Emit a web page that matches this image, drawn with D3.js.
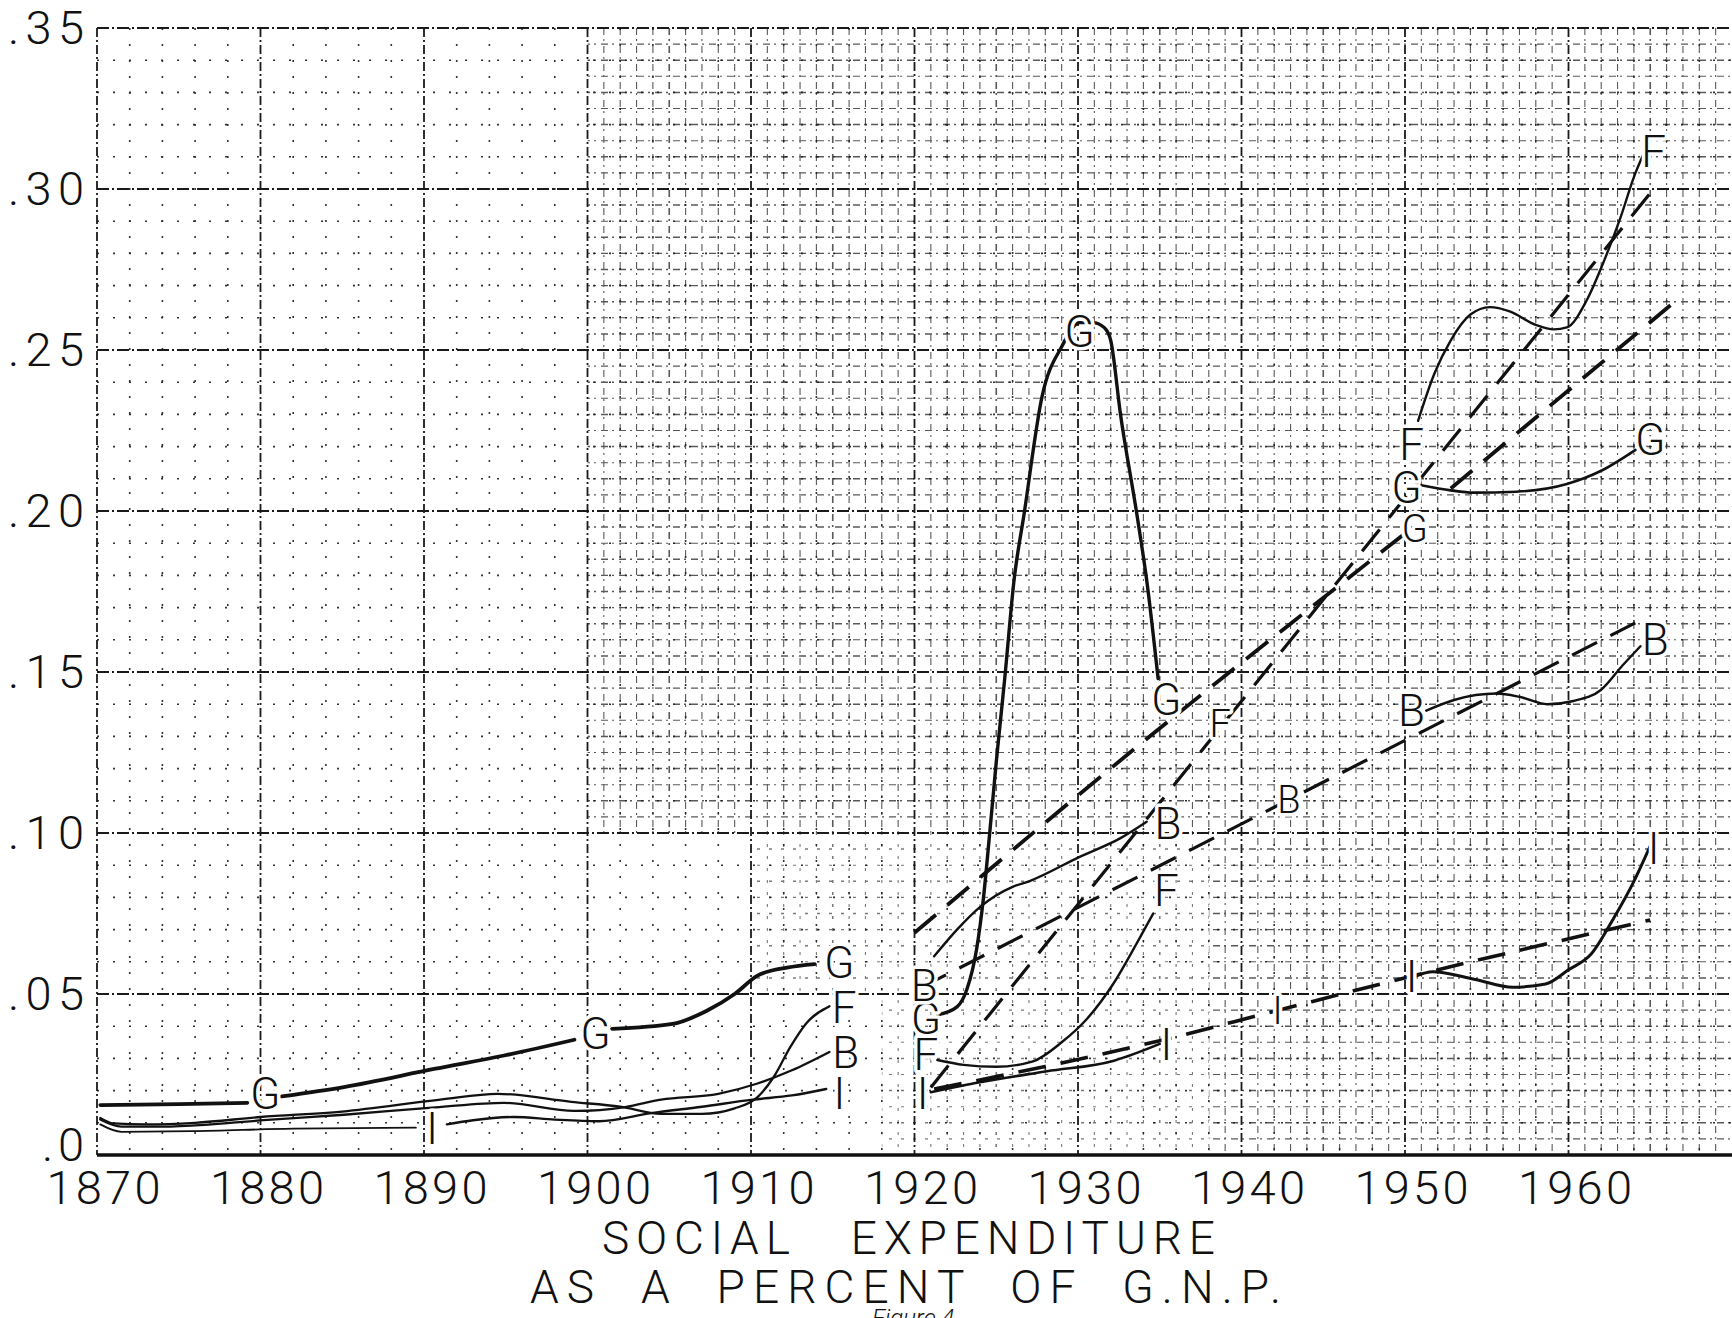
<!DOCTYPE html>
<html>
<head>
<meta charset="utf-8">
<script src="https://cdn.jsdelivr.net/npm/d3@7/dist/d3.min.js"></script>
<style>
  html, body { margin: 0; padding: 0; background: #fff; }
  svg { display: block; }
  text { font-family: Roboto, 'DejaVu Sans', sans-serif; font-weight: 300; fill: #111; white-space: pre; }
</style>
</head>
<body>
<svg id="chart" width="1732" height="1318"></svg>
<script>
// axis ticks
const years = [1870, 1880, 1890, 1900, 1910, 1920, 1930, 1940, 1950, 1960];
const yTicks = [0, 0.05, 0.10, 0.15, 0.20, 0.25, 0.30, 0.35];
const yTickLabels = ['.0', '.05', '.10', '.15', '.20', '.25', '.30', '.35'];
const titleLines = ['SOCIAL   EXPENDITURE', 'AS  A  PERCENT  OF  G.N.P.'];

// G : solid pieces [year, share of GNP]
const gSolid = [
  [[1870.2, 0.0155], [1875, 0.0158], [1879.2, 0.0162]],
  [[1881.3, 0.0182], [1885.1, 0.0211], [1890.7, 0.0268], [1894.9, 0.0309], [1899.2, 0.0358]],
  [[1901.5, 0.0392], [1905.2, 0.0407], [1907.3, 0.0448], [1909, 0.050], [1910.4, 0.0557], [1912.2, 0.0582], [1913.9, 0.0593]],
  [[1921.4, 0.0435], [1922.6, 0.046], [1923.2, 0.0514], [1923.8, 0.064], [1924.2, 0.079], [1924.6, 0.100],
   [1925, 0.122], [1925.5, 0.147], [1926.1, 0.179], [1926.7, 0.199], [1927.8, 0.2355], [1929, 0.251],
   [1930.1, 0.2585], [1930.9, 0.2585], [1931.6, 0.257], [1932, 0.253], [1932.6, 0.230], [1933.6, 0.199],
   [1934.2, 0.1786], [1934.9, 0.148]],
  [[1951, 0.208], [1952.8, 0.2064], [1954.2, 0.2057], [1956.8, 0.206], [1959.9, 0.2084], [1962, 0.2125], [1964.1, 0.219]]
];
// F : solid pieces
const fSolid = [
  [[1870.2, 0.0115], [1871, 0.0098], [1873, 0.0095], [1876, 0.0100], [1880, 0.0118], [1885, 0.0135],
   [1891, 0.0172], [1894.5, 0.019], [1899, 0.0165], [1902, 0.015], [1904.5, 0.0128], [1907, 0.0128],
   [1909, 0.0145], [1910.4, 0.018], [1911.4, 0.0243], [1912.4, 0.0335], [1913.4, 0.041], [1914.8, 0.0462]],
  [[1921.4, 0.0295], [1923, 0.028], [1925, 0.0274], [1927.2, 0.029], [1929, 0.035], [1930.5, 0.042],
   [1932.2, 0.0535], [1933.6, 0.0658], [1934.6, 0.075]],
  [[1950.8, 0.228], [1951.8, 0.2427], [1952.8, 0.253], [1954, 0.261], [1955.2, 0.2633], [1956.4, 0.262],
   [1958, 0.2578], [1959.1, 0.2564], [1959.9, 0.257], [1961.1, 0.2653], [1962.2, 0.278], [1963.2, 0.2914],
   [1964, 0.3037], [1964.6, 0.311]]
];
// B : solid pieces
const bSolid = [
  [[1870.2, 0.0110], [1871.5, 0.0088], [1874, 0.0088], [1877, 0.0095], [1880.2, 0.0108], [1885.1, 0.0125],
   [1890.7, 0.0148], [1894.9, 0.0162], [1899.2, 0.0137], [1902.3, 0.0149], [1904.5, 0.0172], [1908, 0.019],
   [1910.4, 0.0222], [1912.5, 0.0263], [1914.8, 0.032]],
  [[1921.2, 0.0617], [1922.6, 0.070], [1924, 0.077], [1926, 0.0833], [1927, 0.085], [1930.1, 0.0926],
   [1932.6, 0.0984], [1934.2, 0.1035]],
  [[1951.3, 0.138], [1953, 0.1413], [1955.6, 0.1433], [1957, 0.1423], [1958.7, 0.140], [1960.3, 0.141],
   [1962, 0.1445], [1963.3, 0.152], [1964.4, 0.158]]
];
// I : solid pieces
const iSolid = [
  [[1870.2, 0.0095], [1871.5, 0.0072], [1875.8, 0.0074], [1882, 0.0082], [1889.5, 0.0085]],
  [[1891.4, 0.0095], [1893, 0.0108], [1895.5, 0.0118], [1898, 0.011], [1900.7, 0.0105], [1903.9, 0.013],
   [1907, 0.015], [1910.1, 0.0172], [1912.5, 0.0185], [1914.6, 0.0205]],
  [[1921, 0.0195], [1924, 0.0226], [1928.1, 0.026], [1932.2, 0.0293], [1935, 0.0345]],
  [[1950.6, 0.0555], [1951.7, 0.0569], [1954.3, 0.0545], [1956.6, 0.0521], [1958.6, 0.0531], [1960, 0.0575],
   [1961.4, 0.0625], [1962.7, 0.073], [1964, 0.085], [1965, 0.096]]
];

// dashed trend lines
const gTrend = [
  [[1920, 0.069], [1935.6, 0.135], [1943, 0.165], [1950, 0.193]],
  [[1952.8, 0.207], [1966.5, 0.265]]
];
const fTrend = [[[1921, 0.021], [1965.2, 0.300]]];
const bTrend = [[[1920.4, 0.052], [1964.6, 0.1666]]];
const iTrend = [[[1921.2, 0.0205], [1928, 0.0275], [1935, 0.0355], [1942.2, 0.0449], [1950.4, 0.0555], [1965, 0.073]]];

// letter labels sitting on the curves [year, value]
const gLabels = [[1880.3, 0.0192], [1900.5, 0.0379], [1915.4, 0.0600], [1920.7, 0.0425], [1930.1, 0.2557],
                 [1935.4, 0.1416], [1950.1, 0.2074], [1965, 0.2222]];
const fLabels = [[1915.7, 0.0459], [1920.7, 0.0312], [1935.4, 0.0823], [1950.4, 0.2208], [1965.2, 0.3116]];
const bLabels = [[1915.8, 0.0319], [1920.6, 0.0528], [1935.5, 0.1032], [1950.4, 0.1382], [1965.3, 0.1601]];
const iLabels = [[1890.5, 0.0082], [1915.4, 0.0192], [1920.5, 0.0192], [1935.4, 0.0343], [1950.4, 0.0555], [1965.2, 0.0953]];
const boldLabels = [['F', 1938.7, 0.1340], ['B', 1942.9, 0.1104], ['I', 1942.2, 0.0449], ['G', 1950.6, 0.1947]];

const svg = d3.select('#chart');
const x = d3.scaleLinear().domain([1870, 1970]).range([97, 1732]);
const y = d3.scaleLinear().domain([0, 0.35]).range([1155, 28]);
const x0 = x(1870), x1 = x(1970), yTop = y(0.35), yBase = y(0);

// ---- graph paper ----
const paper = svg.append('g');

const sparseYears = d3.range(1872, 1970, 2).filter((yr) => yr % 10 !== 0);
const sparseVals = d3.range(1, 35).map((k) => k / 100).filter((_, k) => (k + 1) % 5 !== 0);

paper.selectAll('line.sv').data(sparseYears).enter().append('line')
  .attr('x1', (d) => x(d)).attr('x2', (d) => x(d)).attr('y1', yTop).attr('y2', yBase)
  .attr('stroke', '#333').attr('stroke-width', 1.6).attr('stroke-dasharray', '2 14');
paper.selectAll('line.sh').data(sparseVals).enter().append('line')
  .attr('x1', x0).attr('x2', x1).attr('y1', (d) => y(d)).attr('y2', (d) => y(d))
  .attr('stroke', '#333').attr('stroke-width', 1.6).attr('stroke-dasharray', '2 14');

// denser paper texture on the right / upper part of the sheet
const densePoly = [[1900, 0.35], [1970, 0.35], [1970, 0], [1938, 0], [1938, 0.10], [1900, 0.10]];
svg.append('clipPath').attr('id', 'dense')
  .append('polygon').attr('points', densePoly.map((p) => `${x(p[0])},${y(p[1])}`).join(' '));
const midPoly = [[1910, 0.10], [1938, 0.10], [1938, 0], [1918, 0], [1918, 0.05], [1910, 0.05]];
svg.append('clipPath').attr('id', 'mid')
  .append('polygon').attr('points', midPoly.map((p) => `${x(p[0])},${y(p[1])}`).join(' '));

const denseYears = d3.range(1871, 1970, 1).filter((yr) => yr % 10 !== 0);
const denseVals = d3.range(1, 70).map((k) => k * 0.005).filter((_, k) => (k + 1) % 10 !== 0);

function fineGrid(clipId, dash, opacity) {
  const g = paper.append('g').attr('clip-path', `url(#${clipId})`).attr('opacity', opacity);
  g.selectAll('line.v').data(denseYears).enter().append('line')
    .attr('x1', (d) => x(d)).attr('x2', (d) => x(d)).attr('y1', yTop).attr('y2', yBase)
    .attr('stroke', '#222').attr('stroke-width', (d) => (d % 5 === 0 ? 1.6 : 1.1))
    .attr('stroke-dasharray', dash);
  g.selectAll('line.h').data(denseVals).enter().append('line')
    .attr('x1', x0).attr('x2', x1).attr('y1', (d) => y(d)).attr('y2', (d) => y(d))
    .attr('stroke', '#222').attr('stroke-width', (d, k) => ((k + 1) % 2 === 0 ? 1.5 : 1.1))
    .attr('stroke-dasharray', dash);
}
fineGrid('dense', '7 4 2 5', 0.75);
fineGrid('mid', '3 9', 0.6);

// major lines: decades and every .05
paper.selectAll('line.mv').data(years).enter().append('line')
  .attr('x1', (d) => x(d)).attr('x2', (d) => x(d)).attr('y1', yTop).attr('y2', yBase)
  .attr('stroke', '#1a1a1a').attr('stroke-width', 1.8).attr('stroke-dasharray', '9 3 2 3');
paper.selectAll('line.mh').data(yTicks.slice(1)).enter().append('line')
  .attr('x1', x0).attr('x2', x1).attr('y1', (d) => y(d)).attr('y2', (d) => y(d))
  .attr('stroke', '#1a1a1a').attr('stroke-width', 1.8).attr('stroke-dasharray', '12 3 2 3');
paper.append('line')
  .attr('x1', x0).attr('x2', x1).attr('y1', yBase).attr('y2', yBase)
  .attr('stroke', '#111').attr('stroke-width', 3.5);

// ---- axes ----
const yAxis = svg.append('g')
  .attr('transform', 'translate(84,0)')
  .call(d3.axisLeft(y).tickValues(yTicks).tickSize(0).tickPadding(0)
    .tickFormat((d, k) => yTickLabels[k]));
yAxis.select('.domain').remove();
yAxis.selectAll('text')
  .attr('font-family', 'Roboto, DejaVu Sans, sans-serif')
  .attr('font-size', 47).attr('font-weight', 300).attr('fill', '#111')
  .attr('y', (d) => (d === 0 ? -10 : 0))
  .attr('textLength', (d, k) => (k === 0 ? 42 : 76)).attr('lengthAdjust', 'spacing');

const xAxis = svg.append('g')
  .attr('transform', `translate(6,${yBase + 16})`)
  .call(d3.axisBottom(x).tickValues(years).tickSize(0).tickPadding(0).tickFormat(d3.format('d')));
xAxis.select('.domain').remove();
xAxis.selectAll('text')
  .attr('font-family', 'Roboto, DejaVu Sans, sans-serif')
  .attr('font-size', 47).attr('font-weight', 300).attr('fill', '#111')
  .attr('textLength', 114).attr('lengthAdjust', 'spacing');

// titles
svg.append('text').attr('x', 602).attr('y', 1254).attr('font-size', 46)
  .attr('textLength', 613).attr('lengthAdjust', 'spacing').text(titleLines[0]);
svg.append('text').attr('x', 530).attr('y', 1303).attr('font-size', 46)
  .attr('textLength', 751).attr('lengthAdjust', 'spacing').text(titleLines[1]);
svg.append('text').attr('x', 872).attr('y', 1326).attr('font-size', 24)
  .attr('font-family', 'DejaVu Serif, serif').attr('font-style', 'italic').attr('font-weight', 700)
  .text('Figure 4');

// ---- curves ----
const line = d3.line().x((d) => x(d[0])).y((d) => y(d[1])).curve(d3.curveMonotoneX);
const marks = svg.append('g').attr('fill', 'none').attr('stroke', '#111')
  .attr('stroke-linecap', 'round').attr('stroke-linejoin', 'round');

function drawSolid(pieces, widths) {
  marks.append('g').selectAll('path').data(pieces).enter().append('path')
    .attr('d', line).attr('stroke-width', (d, k) => widths[k]);
}
drawSolid(gSolid, [3.6, 3.8, 3.8, 3.4, 2.6]);
drawSolid(fSolid, [2.3, 2.4, 2.4]);
drawSolid(bSolid, [2.3, 2.4, 2.4]);
drawSolid(iSolid, [1.8, 2.4, 2.6, 3]);

function drawTrend(pieces, width) {
  marks.append('g').selectAll('path').data(pieces).enter().append('path')
    .attr('d', line).attr('stroke-width', width).attr('stroke-dasharray', '28 15')
    .attr('stroke-linecap', 'butt');
}
drawTrend(gTrend, 3.8);
drawTrend(fTrend, 3.2);
drawTrend(bTrend, 3.2);
drawTrend(iTrend, 3.6);

// ---- letter labels (white halo breaks the line under each letter) ----
const labelRows = []
  .concat(gLabels.map((d) => ['G', d[0], d[1], false]))
  .concat(fLabels.map((d) => ['F', d[0], d[1], false]))
  .concat(bLabels.map((d) => ['B', d[0], d[1], false]))
  .concat(iLabels.map((d) => ['I', d[0], d[1], false]))
  .concat(boldLabels.map((d) => [d[0], d[1], d[2], true]));

const labelFont = (d) => (d[0] === 'I' ? 'DejaVu Serif, Liberation Serif, serif' : 'Roboto, DejaVu Sans, sans-serif');
svg.append('g').attr('text-anchor', 'middle')
  .selectAll('text').data(labelRows).enter().append('text')
  .attr('x', (d) => x(d[1])).attr('y', (d) => y(d[2]))
  .attr('dy', '0.36em')
  .attr('font-family', labelFont)
  .attr('font-size', (d) => (d[3] ? 38 : 44))
  .attr('font-weight', (d) => (d[3] ? 700 : (d[0] === 'I' ? 400 : 300)))
  .attr('fill', '#111')
  .attr('stroke', '#fff')
  .attr('stroke-width', 7)
  .attr('stroke-linejoin', 'round')
  .attr('paint-order', 'stroke')
  .text((d) => d[0]);
</script>
</body>
</html>
